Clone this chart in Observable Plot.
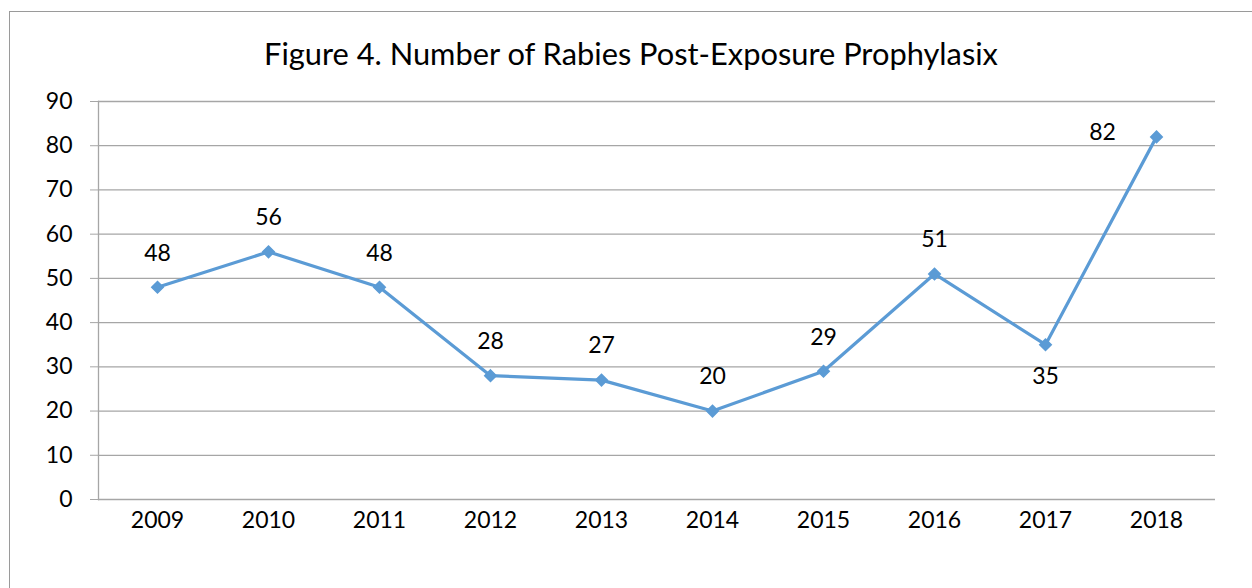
<!DOCTYPE html>
<html>
<head>
<meta charset="utf-8">
<script src="https://cdn.jsdelivr.net/npm/d3@7"></script>
<script src="https://cdn.jsdelivr.net/npm/@observablehq/plot@0.6"></script>
<style>
  html, body { margin: 0; padding: 0; background: #fff; overflow: hidden; }
  body { width: 1252px; height: 588px; position: relative; font-family: Lato, "Open Sans", sans-serif; }
  #border { position: absolute; left: 9px; top: 11px; width: 1300px; height: 640px; border: 1px solid #9a9a9a; box-sizing: border-box; }
  #title { position: absolute; left: 0; top: 33px; width: 1262px; text-align: center; color: #000; font-size: 30px; line-height: 40px; white-space: nowrap; }
  #title span { display: inline-block; }
  #chart { position: absolute; left: 0; top: 85px; }
</style>
</head>
<body>
<div id="border"></div>
<div id="title"><span id="titleText">Figure 4. Number of Rabies Post-Exposure Prophylasix</span></div>
<div id="chart"></div>
<script>
const years = ["2009","2010","2011","2012","2013","2014","2015","2016","2017","2018"];
const values = [48, 56, 48, 28, 27, 20, 29, 51, 35, 82];
const yTicks = [0, 10, 20, 30, 40, 50, 60, 70, 80, 90];

const data = years.map((year, i) => ({year, value: values[i]}));

const blue = "#5B9BD5";
const grid = "#a6a6a6";
const fs = 23;

const chart = Plot.plot({
  width: 1252,
  height: 503,
  marginLeft: 98,
  marginRight: 37,
  marginTop: 16,
  marginBottom: 89,
  style: {fontFamily: "Lato, 'Open Sans', sans-serif", fontSize: fs + "px", color: "#000", background: "transparent"},
  x: {type: "point", domain: years, padding: 0.5, label: null},
  y: {domain: [0, 90], label: null},
  marks: [
    Plot.gridY(yTicks, {stroke: grid, strokeOpacity: 1, strokeWidth: 1.3}),
    Plot.axisY(yTicks, {tickSize: 8, tickPadding: 18, stroke: grid, fill: "#000", fontSize: fs, label: null}),
    Plot.frame({anchor: "left", stroke: grid, strokeWidth: 1.3}),
    Plot.axisX({tickSize: 0, tickPadding: 12, fill: "#000", fontSize: fs, label: null}),
    Plot.line(data, {x: "year", y: "value", stroke: blue, strokeWidth: 3.2}),
    Plot.dot(data, {x: "year", y: "value", symbol: "diamond2", r: 5.2, fill: blue, stroke: blue}),
    Plot.text(data, {filter: d => d.year !== "2017" && d.year !== "2018", x: "year", y: "value", text: d => String(d.value), dy: -34, fontSize: fs, fill: "#000"}),
    Plot.text(data, {filter: d => d.year === "2017", x: "year", y: "value", text: d => String(d.value), dy: 32, fontSize: fs, fill: "#000"}),
    Plot.text(data, {filter: d => d.year === "2018", x: "year", y: "value", text: d => String(d.value), dx: -54, dy: -4, fontSize: fs, fill: "#000"})
  ]
});
document.getElementById("chart").appendChild(chart);

// fit title width to the reference (~734px)
const t = document.getElementById("titleText");
const w = t.getBoundingClientRect().width;
if (w > 0) t.style.fontSize = (30 * 734 / w).toFixed(2) + "px";
</script>
</body>
</html>
